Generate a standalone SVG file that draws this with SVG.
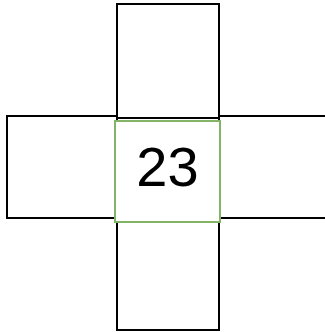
<svg xmlns="http://www.w3.org/2000/svg" width="325" height="332" viewBox="0 0 325 332">
<style>
.b{fill:#fff;stroke:#000;stroke-width:2}
.g{fill:#fff;stroke:#82b366;stroke-width:2}
.t{font-family:"Liberation Sans",Arial,sans-serif;font-size:56px;fill:#000;text-anchor:middle}
</style>
<rect width="325" height="332" fill="#fff"/>
<g id="top"><rect class="b" x="117" y="4" width="102" height="114"/></g>
<g id="left"><rect class="b" x="7" y="116" width="110" height="102"/></g>
<g id="right"><rect class="b" x="219" y="116" width="110" height="102"/></g>
<g id="bottom"><rect class="b" x="117" y="218" width="102" height="112"/></g>
<g id="center"><rect class="g" x="115" y="121" width="105" height="101"/><text class="t" x="167.5" y="186">23</text></g>
</svg>
